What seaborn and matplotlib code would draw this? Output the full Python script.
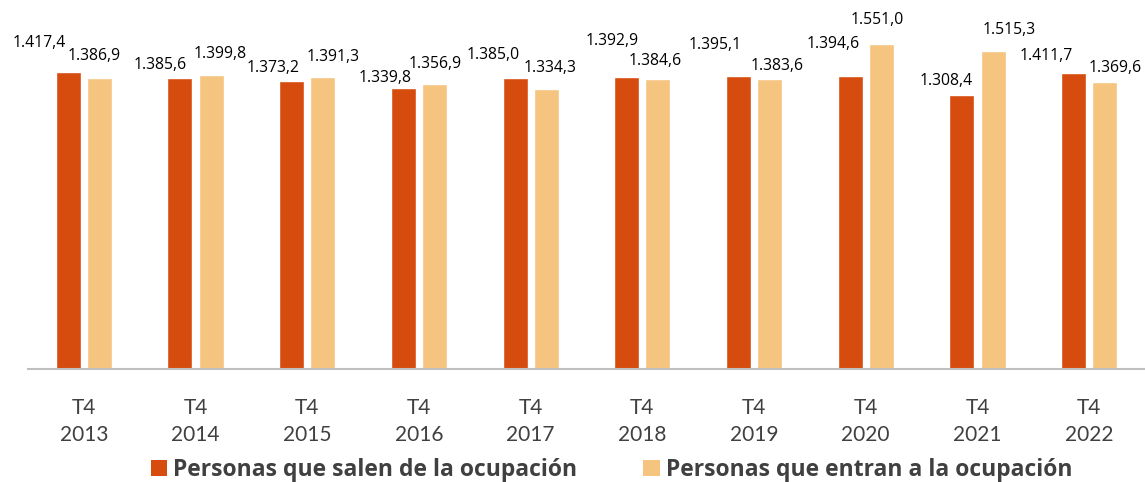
import matplotlib
matplotlib.use("Agg")
import matplotlib.pyplot as plt
import seaborn as sns
import pandas as pd
from matplotlib.patches import Patch

# ---- data ----
years = ["2013", "2014", "2015", "2016", "2017", "2018", "2019", "2020", "2021", "2022"]
tick_labels = ["T4\n" + y for y in years]
salen = [1417.4, 1385.6, 1373.2, 1339.8, 1385.0, 1392.9, 1395.1, 1394.6, 1308.4, 1411.7]
entran = [1386.9, 1399.8, 1391.3, 1356.9, 1334.3, 1384.6, 1383.6, 1551.0, 1515.3, 1369.6]
series = ["Personas que salen de la ocupación", "Personas que entran a la ocupación"]

# label placement (pixel offsets from bar top-centre), as in the original
salen_dx = [-29, -20, -18, -18, -22, -15, -23, -17, -16, -27]
salen_dy = [29, 13, 13, 10, 23, 36, 31, 32, 14, 17]
entran_dx = [-5, 9, 10, 1, 4, -3, 7, -4, 16, 10]
entran_dy = [22, 21, 20, 20, 21, 18, 13, 24, 21, 14]

colors = ["#D64B0E", "#F5C47F"]
text_grey = "#404040"

def fmt(v):
    s = f"{v:,.1f}"
    return s.replace(",", "X").replace(".", ",").replace("X", ".")

df = pd.DataFrame({
    "cat": tick_labels * 2,
    "val": salen + entran,
    "serie": [series[0]] * len(years) + [series[1]] * len(years),
})

sns.set_theme(style="white")
plt.rcParams["font.family"] = ["Lato", "DejaVu Sans"]

fig = plt.figure(figsize=(11.45, 4.82), dpi=100)
ax = fig.add_axes([28 / 1145, 113 / 482, 1 - 28 / 1145, 1 - 113 / 482])

sns.barplot(data=df, x="cat", y="val", hue="serie", order=tick_labels,
            hue_order=series, palette=colors, width=0.56, gap=0.2,
            saturation=1, ax=ax, legend=False, errorbar=None)

ax.set_ylim(0, 1759)
ax.set_xlim(-0.5, len(years) - 0.5)
ax.set_xlabel("")
ax.set_ylabel("")
ax.set_yticks([])
for s in ["top", "left", "right"]:
    ax.spines[s].set_visible(False)
ax.spines["bottom"].set_color("#BFBFBF")
ax.spines["bottom"].set_linewidth(1.5)
ax.tick_params(axis="x", length=0, pad=21, labelsize=15, labelcolor=text_grey)
for t in ax.get_xticklabels():
    t.set_linespacing(1.45)

# data labels
containers = ax.containers
for cont, vals, dxs, dys in [(containers[0], salen, salen_dx, salen_dy),
                            (containers[1], entran, entran_dx, entran_dy)]:
    for bar, v, dx, dy in zip(cont, vals, dxs, dys):
        xc = bar.get_x() + bar.get_width() / 2
        ax.annotate(fmt(v), (xc, bar.get_height()), xytext=(dx, dy),
                    textcoords="offset pixels", ha="center", va="center",
                    fontsize=11.3, family=["Open Sans", "DejaVu Sans"],
                    color="black", annotation_clip=False)

handles = [Patch(facecolor=c, edgecolor="none") for c in colors]
fig.legend(handles, series, loc="center", bbox_to_anchor=(0.534, 1 - 470 / 482),
           ncol=2, frameon=False, handlelength=0.7, handleheight=0.7,
           handletextpad=0.27, columnspacing=2.9,
           prop={"family": ["Open Sans", "DejaVu Sans"], "weight": "bold", "size": 16.5},
           labelcolor=text_grey)

fig.savefig("out.png", dpi=100)
